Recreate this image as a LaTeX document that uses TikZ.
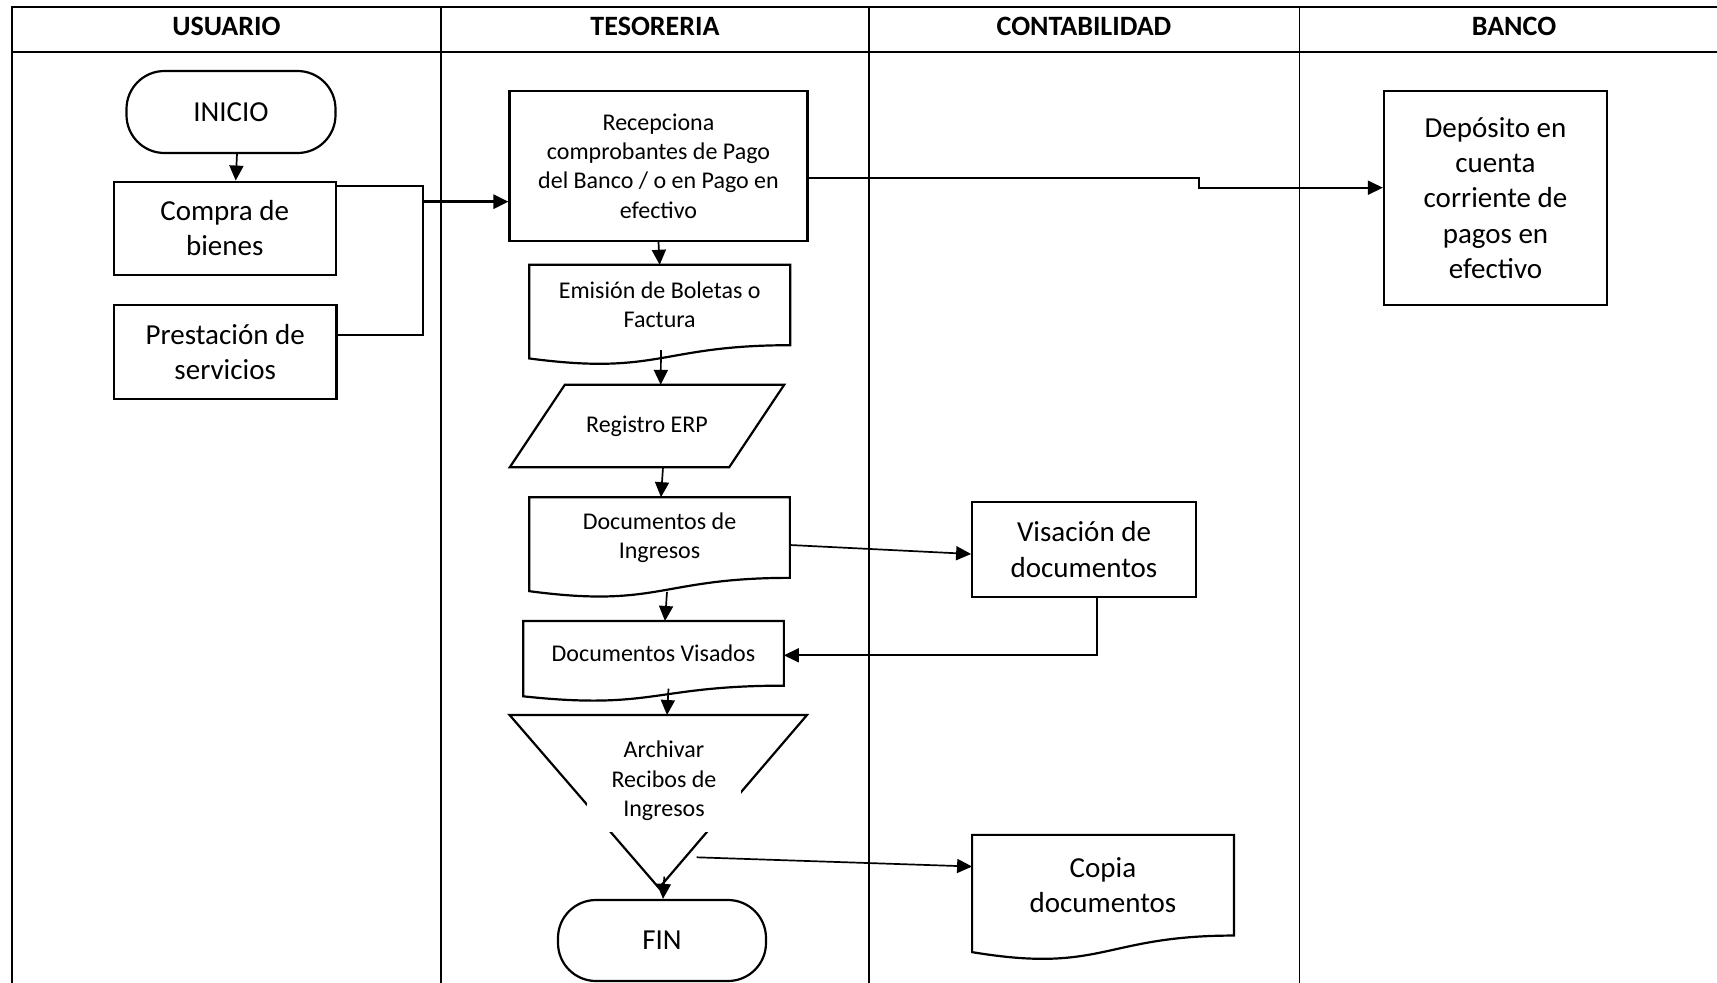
\documentclass[tikz,border=0pt]{standalone}
\usepackage{fontspec}
\setmainfont{Carlito}
\usetikzlibrary{arrows.meta,calc}

\tikzset{
  frameline/.style={line width=2.2pt},
  laneline/.style={line width=1.8pt},
  hdr/.style={font=\fontsize{28}{34}\selectfont\bfseries},
  shapeline/.style={line width=2.2pt},
  bigtxt/.style={font=\fontsize{29}{35.4}\selectfont, align=center},
  smalltxt/.style={font=\fontsize{24}{29.3}\selectfont, align=center},
  procbox/.style={draw, shapeline, rectangle, inner sep=0pt},
  termbox/.style={draw, shapeline, rectangle, rounded corners=38pt, inner sep=0pt},
  docbox/.style={rectangle, draw=none, inner sep=0pt},
  conn/.style={line width=1.7pt},
  arr/.style={conn, -{Triangle[length=15pt,width=14pt]}},
  thickarr/.style={line width=3pt, -{Triangle[length=15pt,width=14pt]}}
}

% outline of a document symbol: straight top and sides, wavy bottom edge
\newcommand\docoutline[1]{%
  \draw[shapeline] let \p1=(#1.north west), \p2=(#1.south east), \n1={\y1-\y2} in
    (\p1) -- (\x2,\y1) -- (\p2)
    .. controls ({0.5*\x1+0.5*\x2},\y2) and ({0.5*\x1+0.5*\x2},{\y2-0.381*\n1}) ..
    (\x1,{\y2-0.1646*\n1}) -- cycle;}

\begin{document}
\begin{tikzpicture}[x=1pt,y=-1pt]
\useasboundingbox (0,0) rectangle (1717,983);

% swimlane frame
\draw[frameline] (12,983) -- (12,7) -- (1717,7);
\draw[frameline] (12,52) -- (1717,52);
\draw[laneline] (441,7) -- (441,983);
\draw[laneline] (869,7) -- (869,983);
\draw[laneline] (1299.5,7) -- (1299.5,983);

\node[hdr] (h1) at (226.5,26) {USUARIO};
\node[hdr] (h2) at (655,26) {TESORERIA};
\node[hdr] (h3) at (1084,26) {CONTABILIDAD};
\node[hdr] (h4) at (1514,26) {BANCO};

% USUARIO
\node[termbox, bigtxt, minimum width=209pt, minimum height=82pt] (inicio) at (231,112) {INICIO};
\node[procbox, bigtxt, minimum width=222pt, minimum height=93.3pt] (compra) at (224.7,228.3) {Compra de\\bienes};
\node[procbox, bigtxt, minimum width=222.5pt, minimum height=94pt] (prest) at (225.2,352) {Prestación de\\servicios};

% TESORERIA
\node[procbox, smalltxt, minimum width=298pt, minimum height=150pt] (recep) at (658.5,166)
  {Recepciona\\comprobantes de Pago\\del Banco / o en Pago en\\efectivo};
\node[docbox, smalltxt, minimum width=260.5pt, minimum height=80pt] (emi) at (659.7,305) {Emisión de Boletas o\\Factura};
\docoutline{emi}
\node[docbox, smalltxt, minimum width=219pt, minimum height=82pt] (reg) at (647,426) {Registro ERP};
\draw[shapeline] ([xshift=27.5pt]reg.north west) -- ([xshift=27.5pt]reg.north east)
  -- ([xshift=-27.5pt]reg.south east) -- ([xshift=-27.5pt]reg.south west) -- cycle;
\node[docbox, smalltxt, minimum width=260.3pt, minimum height=80.3pt] (ding) at (659.5,537.5) {Documentos de\\Ingresos};
\docoutline{ding}
\node[docbox, smalltxt, minimum width=260.3pt, minimum height=64.3pt] (vis) at (653.5,653.3) {Documentos Visados};
\docoutline{vis}

% merge symbol for the archive, its text box masks part of the sides
\coordinate (archTL) at (509.6,715);
\coordinate (archTR) at (807,715);
\coordinate (archB) at (659,888);
\coordinate (archtop) at (667,715);
\coordinate (archout) at (664.3,876.7);
\coordinate (archside) at (696.7,857.3);
\draw[shapeline, line join=miter] (archTL) -- (archTR) -- (archB) -- cycle;
\node[rectangle, fill=white, inner sep=0pt, smalltxt, minimum width=154pt, minimum height=101pt] (arch) at (664,781)
  {Archivar\\Recibos de\\Ingresos};

\node[termbox, bigtxt, minimum width=208pt, minimum height=81pt] (fin) at (662,940.5) {FIN};

% CONTABILIDAD
\node[procbox, bigtxt, minimum width=223.6pt, minimum height=95pt] (visa) at (1084,549.5) {Visación de\\documentos};
\node[docbox, bigtxt, minimum width=261.4pt, minimum height=100.3pt] (copia) at (1103,885.2) {Copia\\documentos};
\docoutline{copia}

% BANCO
\node[procbox, bigtxt, minimum width=223pt, minimum height=214pt] (depo) at (1495.5,198)
  {Depósito en\\cuenta\\corriente de\\pagos en\\efectivo};

% connectors
\coordinate (brk) at (422.7,201.7);
\coordinate (stepc) at (1199.3,182);
\draw[arr] ([xshift=6pt]inicio.south) -- ([xshift=11pt]compra.north);
\draw[conn] ([yshift=-5.6pt]compra.north east) -| (brk) |- ([yshift=17pt]prest.east);
\draw[thickarr] (brk) -- (brk -| recep.west);
\draw[arr] ([yshift=-11.7pt]recep.east) -| (stepc) |- ([yshift=10.3pt]depo.west);
\draw[arr] (recep.south) -- (emi.north);
\draw[arr] ([xshift=1.3pt,yshift=-5pt]emi.south) -- ([xshift=13.7pt]reg.north);
\draw[arr] ([xshift=16pt]reg.south) -- ([xshift=1.5pt]ding.north);
\draw[arr] ([xshift=7.5pt,yshift=-14pt]ding.south) -- ([xshift=11.5pt]vis.north);
\draw[arr] ([xshift=15pt,yshift=-3pt]vis.south) -- (archtop);
\draw[arr] (archout) -- ([xshift=1pt]fin.north);
\draw[arr] ([yshift=-7.5pt]ding.east) -- ([yshift=-4.5pt]visa.west);
\draw[arr] ([xshift=13pt]visa.south) |- ([yshift=-2pt]vis.east);
\draw[arr] (archside) -- ([yshift=18.7pt]copia.west);
\end{tikzpicture}
\end{document}
